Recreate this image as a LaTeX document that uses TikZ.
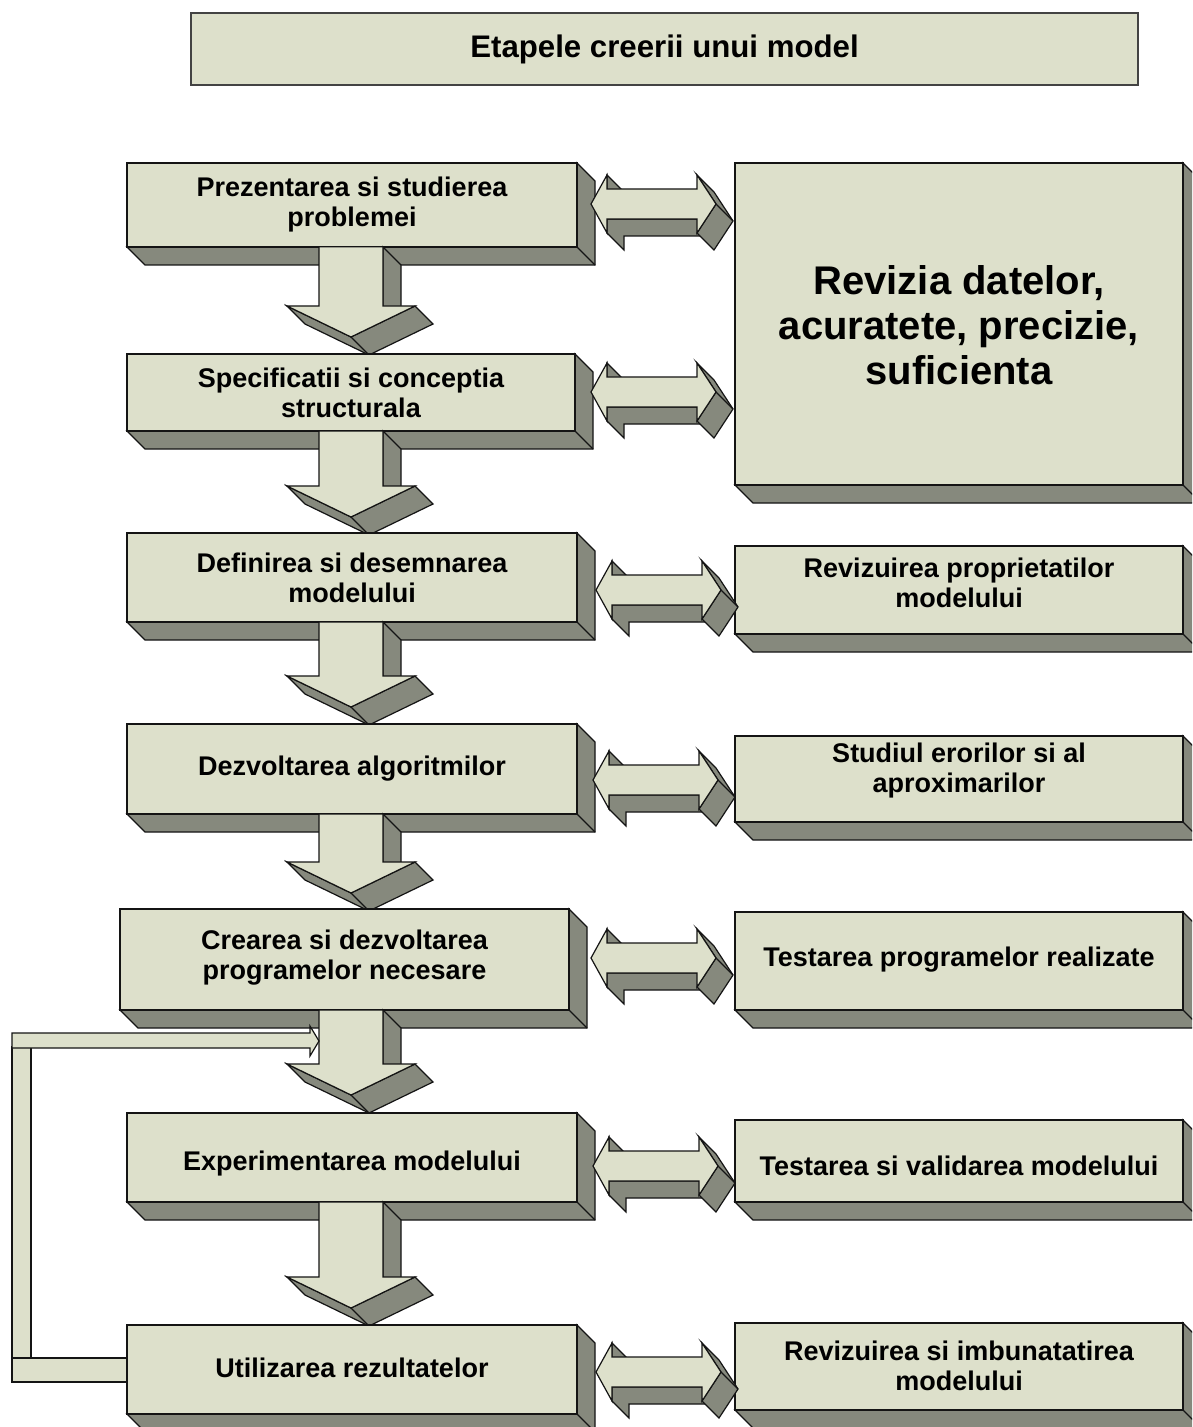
\documentclass[tikz,border=0pt]{standalone}
\usepackage{fontspec}
\setmainfont{Liberation Sans}
\definecolor{facelight}{RGB}{221,224,203}
\definecolor{faceshade}{RGB}{134,137,125}
\definecolor{edgeline}{RGB}{20,20,20}

\tikzset{
  front/.style={fill=facelight, draw=edgeline, line width=0.6pt},
  side/.style={fill=faceshade, draw=edgeline, line width=0.6pt},
  edgeonly/.style={draw=edgeline, line width=0.6pt},
  steptext/.style={font=\bfseries\fontsize{13.5}{15}\selectfont, align=center, inner sep=0pt},
  bigtext/.style={font=\bfseries\fontsize{20}{22.5}\selectfont, align=center, inner sep=0pt},
  titletext/.style={font=\bfseries\fontsize{15.6}{18}\selectfont, inner sep=0pt},
}

% raised slab: left, top, right, bottom (depth 18 towards lower right)
\newcommand{\slab}[4]{%
  \filldraw[side] (#1,#4) -- (#3,#4) -- (#3,#2) -- (#3+18,#2+18) -- (#3+18,#4+18) -- (#1+18,#4+18) -- cycle;
  \draw[edgeonly] (#3,#4) -- (#3+18,#4+18);
  \filldraw[front] (#1,#2) rectangle (#3,#4);
}

% downward block arrow: shaft top, head base
\newcommand{\droparrow}[2]{%
  \filldraw[side] (383,#1) -- (401,#1+18) -- (401,#2+18) -- (383,#2) -- cycle;
  \filldraw[side] (287,#2) -- (351,#2+31) -- (415,#2) -- (433,#2+18) -- (369,#2+49) -- (305,#2+18) -- cycle;
  \draw[edgeonly] (351,#2+31) -- (369,#2+49);
  \fill[facelight] (319,#1+0.5) -- (319,#2) -- (287,#2) -- (351,#2+31) -- (415,#2) -- (383,#2) -- (383,#1+0.5) -- cycle;
  \draw[edgeonly] (319,#1) -- (319,#2) -- (287,#2) -- (351,#2+31) -- (415,#2) -- (383,#2) -- (383,#1);
}

% two-headed block arrow: left tip x, centre y
\newcommand{\twoway}[2]{%
  \filldraw[side] (#1+16,#2+15) -- (#1+106,#2+15) -- (#1+123,#2+32) -- (#1+33,#2+32) -- (#1+33,#2+46) -- (#1+16,#2+29) -- cycle;
  \filldraw[side] (#1+16,#2-29) -- (#1+16,#2-15) -- (#1+33,#2+2) -- (#1+33,#2-12) -- cycle;
  \filldraw[side] (#1+106,#2-29) -- (#1+125,#2) -- (#1+106,#2+29) -- (#1+123,#2+46) -- (#1+142,#2+17) -- (#1+123,#2-12) -- cycle;
  \draw[edgeonly] (#1+125,#2) -- (#1+142,#2+17);
  \filldraw[front] (#1,#2) -- (#1+16,#2-29) -- (#1+16,#2-15) -- (#1+106,#2-15) -- (#1+106,#2-29) -- (#1+125,#2)
     -- (#1+106,#2+29) -- (#1+106,#2+15) -- (#1+16,#2+15) -- (#1+16,#2+29) -- cycle;
}

\begin{document}
\begin{tikzpicture}[x=0.5pt, y=-0.5pt]
\clip (0,0) rectangle (1192,1427);
\fill[white] (0,0) rectangle (1192,1427);

% heading
\filldraw[fill=facelight, draw=edgeline!80, line width=0.8pt] (191,13) rectangle (1138,85);
\node[titletext] (title) at (664.5,49) {Etapele creerii unui model};

% right-hand column of review boxes
\slab{735}{163}{1183}{485}
\slab{735}{546}{1183}{634}
\slab{735}{736}{1183}{822}
\slab{735}{912}{1183}{1010}
\slab{735}{1120}{1183}{1202}
\slab{735}{1323}{1183}{1410}

\node[bigtext] (rev0) at (959,325) {Revizia datelor,\\acuratete, precizie,\\suficienta};
\node[steptext] (rev1) at (959,583) {Revizuirea proprietatilor\\modelului};
\node[steptext] (rev2) at (959,771) {Studiul erorilor si al\\aproximarilor};
\node[steptext] (rev3) at (959,960) {Testarea programelor realizate};
\node[steptext] (rev4) at (959,1166) {Testarea si validarea modelului};
\node[steptext] (rev5) at (959,1366) {Revizuirea si imbunatatirea\\modelului};

% main sequence of steps
\slab{127}{163}{577}{247}
\droparrow{247}{306}
\slab{127}{354}{575}{431}
\droparrow{431}{486}
\slab{127}{533}{577}{622}
\droparrow{622}{676}
\slab{127}{724}{577}{814}
\droparrow{814}{862}
\slab{120}{909}{569}{1010}
\droparrow{1010}{1064}
\slab{127}{1113}{577}{1202}
\droparrow{1202}{1277}

% feedback loop back to the programming step
\filldraw[front] (12,1047) rectangle (31,1358);
\filldraw[front] (12,1033) -- (310,1033) -- (310,1026) -- (319,1041) -- (310,1056) -- (310,1048) -- (12,1048) -- cycle;
\filldraw[front] (12,1358) rectangle (127,1382);

\slab{127}{1325}{577}{1414}

\node[steptext] (s1) at (352,205) {Prezentarea si studierea\\problemei};
\node[steptext] (s2) at (351,392.5) {Specificatii si conceptia\\structurala};
\node[steptext] (s3) at (352,577.5) {Definirea si desemnarea\\modelului};
\node[steptext] (s4) at (352,769) {Dezvoltarea algoritmilor};
\node[steptext] (s5) at (344.5,958) {Crearea si dezvoltarea\\programelor necesare};
\node[steptext] (s6) at (352,1164) {Experimentarea modelului};
\node[steptext] (s7) at (352,1368) {Utilizarea rezultatelor};

% two-way links between steps and reviews
\twoway{591}{204}
\twoway{591}{392}
\twoway{596}{590}
\twoway{593}{780}
\twoway{591}{958}
\twoway{593}{1166}
\twoway{596}{1372}
\end{tikzpicture}
\end{document}
